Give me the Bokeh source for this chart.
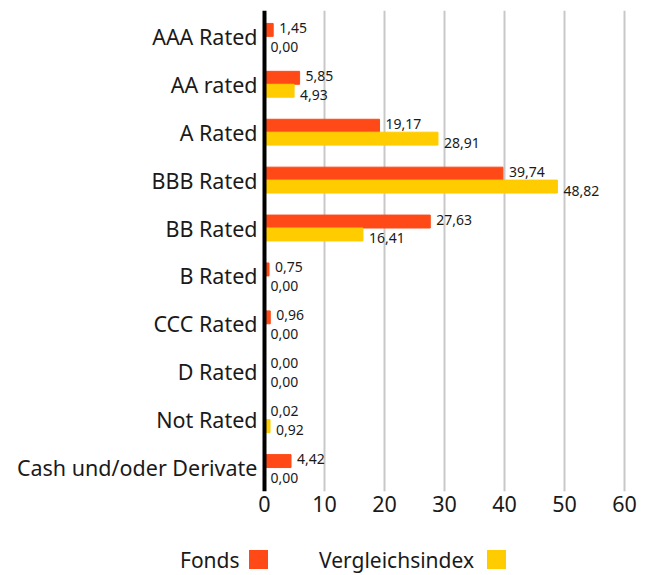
from bokeh.plotting import figure
from bokeh.models import ColumnDataSource, Range1d, FixedTicker, Span, Div
from bokeh.layouts import column
from bokeh.core.properties import value
from bokeh.embed import file_html
from bokeh.resources import INLINE

categories = ["AAA Rated", "AA rated", "A Rated", "BBB Rated", "BB Rated", "B Rated",
              "CCC Rated", "D Rated", "Not Rated", "Cash und/oder Derivate"]
fonds = [1.45, 5.85, 19.17, 39.74, 27.63, 0.75, 0.96, 0.00, 0.02, 4.42]
index_vals = [0.00, 4.93, 28.91, 48.82, 16.41, 0.00, 0.00, 0.00, 0.92, 0.00]
x_ticks = [0, 10, 20, 30, 40, 50, 60]
series_names = ["Fonds", "Vergleichsindex"]

FONT = "Noto Sans"
C_FONDS = "#FF4A17"
C_INDEX = "#FFCC00"
TXT = "#1a1a1a"

def fmt(v):
    return f"{v:.2f}".replace(".", ",")

pos = list(range(len(categories)))
bh = 0.27
src = ColumnDataSource(dict(
    pos=pos,
    fonds=fonds,
    idx=index_vals,
    fy=[p - bh / 2 for p in pos],
    iy=[p + bh / 2 for p in pos],
    flab=[fmt(v) for v in fonds],
    ilab=[fmt(v) for v in index_vals],
))

p = figure(width=653, height=523, output_backend="svg", toolbar_location=None,
           x_range=Range1d(-0.5, 60.5), y_range=Range1d(9.5, -0.54),
           min_border_left=261, min_border_right=26, min_border_top=10,
           min_border_bottom=32)
p.outline_line_color = None
p.background_fill_color = "white"

p.hbar(y="fy", left=0, right="fonds", height=bh, source=src, color=C_FONDS)
p.hbar(y="iy", left=0, right="idx", height=bh, source=src, color=C_INDEX)

p.text(x="fonds", y="fy", text="flab", source=src, x_offset=6, y_offset=-2,
       text_font=value(FONT), text_font_size="14px", text_baseline="middle",
       text_color=TXT)
p.text(x="idx", y="iy", text="ilab", source=src, x_offset=6, y_offset=4,
       text_font=value(FONT), text_font_size="14px", text_baseline="middle",
       text_color=TXT)

p.add_layout(Span(location=0, dimension="height", line_color="black", line_width=4))

p.xaxis.ticker = FixedTicker(ticks=x_ticks)
p.xgrid.ticker = FixedTicker(ticks=x_ticks[1:])
p.xgrid.grid_line_color = "#c8c8c8"
p.xgrid.grid_line_width = 2
p.ygrid.grid_line_color = None
p.xaxis.axis_line_color = None
p.xaxis.major_tick_line_color = None
p.xaxis.minor_tick_line_color = None
p.xaxis.major_tick_out = 0
p.xaxis.major_tick_in = 0
p.xaxis.major_label_standoff = 4
p.xaxis.major_label_text_font = FONT
p.xaxis.major_label_text_font_size = "21.5px"
p.xaxis.major_label_text_color = TXT

p.yaxis.ticker = FixedTicker(ticks=pos)
p.yaxis.major_label_overrides = {i: c for i, c in enumerate(categories)}
p.yaxis.axis_line_color = None
p.yaxis.major_tick_line_color = None
p.yaxis.minor_tick_line_color = None
p.yaxis.major_tick_out = 0
p.yaxis.major_tick_in = 0
p.yaxis.major_label_standoff = 4
p.yaxis.major_label_text_font = FONT
p.yaxis.major_label_text_font_size = "21.5px"
p.yaxis.major_label_text_color = TXT

# legend as HTML (text followed by colour square)
def item(label, color, tx, sx):
    return (f'<span style="position:absolute;left:{tx}px;top:25px;line-height:24px;'
            f'white-space:nowrap">{label}</span>'
            f'<span style="position:absolute;left:{sx}px;top:27px;width:19px;height:19px;'
            f'background:{color}"></span>')

legend_html = (f'<div style="position:relative;width:653px;height:52px;'
               f'font-family:\'{FONT}\';font-size:21px;color:{TXT}">'
               + item(series_names[0], C_FONDS, 180, 249)
               + item(series_names[1], C_INDEX, 319, 487)
               + '</div>')
lg = Div(text=legend_html, width=653, height=52, margin=0)

layout = column(p, lg, spacing=0)
open("out.html", "w").write(file_html(layout, INLINE))
